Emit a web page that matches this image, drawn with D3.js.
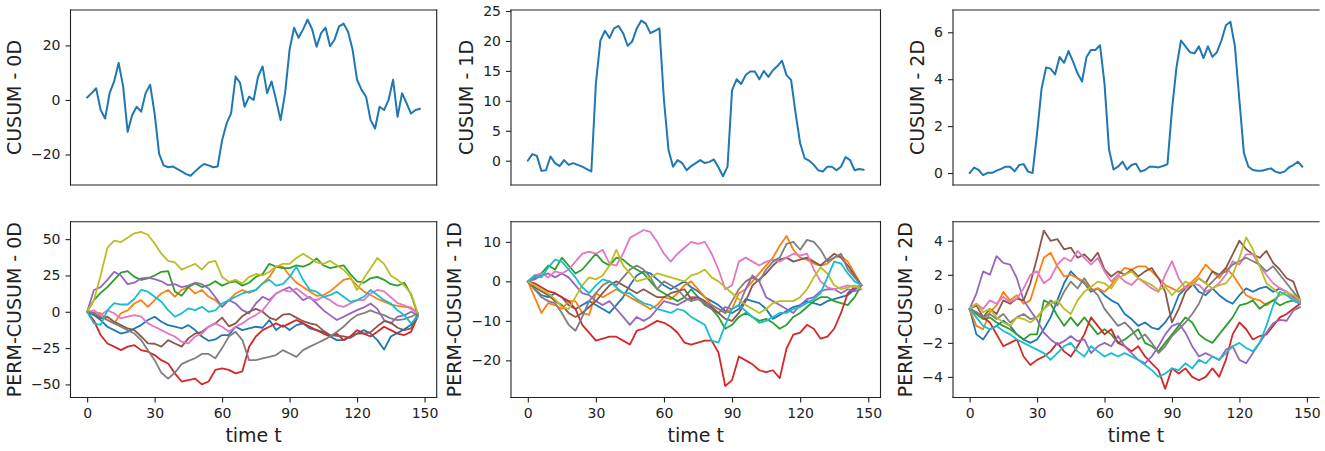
<!DOCTYPE html>
<html>
<head>
<meta charset="utf-8">
<script src="https://cdn.jsdelivr.net/npm/d3@7"></script>
<style>
  body { margin: 0; background: #fff; }
  text { font-family: "DejaVu Sans", sans-serif; fill: #222; }
</style>
</head>
<body>
<svg width="1325" height="451"></svg>
<script>
// time indices
const tCusum = d3.range(0, 149, 2);   // 0..148
const tPerm = d3.range(0, 148, 3);    // 0..147
const timeTicks = [0, 30, 60, 90, 120, 150];

// CUSUM statistics
const cusum0D = [0.9, 2.5, 4.3, -3.7, -6.8, 2.5, 6.8, 13.6, 5, -11.7,
  -5.6, -2.5, -4.3, 2.5, 5.6, -5, -19.8, -24, -24.7, -24.4,
  -25.3, -26.2, -27.2, -27.8, -26.2, -24.7, -23.5, -24, -24.7, -24.4,
  -14.8, -8.6, -4.9, 8.6, 6.2, -2.5, 1.2, 0, 8.6, 12.3,
  2.5, 6.8, 0, -7.4, 2.5, 18.5, 26.5, 22.8, 25.9, 29.5,
  26, 19.5, 24.5, 26.5, 19.7, 22.2, 27, 28, 25, 18.5,
  7.4, 3.7, 1.2, -7.4, -10.5, -2.5, -3.7, 0, 7.4, -6.2,
  2.5, -1.2, -5, -3.7, -3.2];
const cusum1D = [0, 1.1, 0.8, -1.7, -1.6, 0.7, -0.4, -0.9, 0.1, -0.7,
  -0.4, -0.7, -1, -1.4, -1.8, 12.9, 20.1, 21.7, 20.5, 22.1,
  22.5, 21.3, 19.2, 19.9, 22.1, 23.4, 22.9, 21.3, 21.7, 22.1,
  10.1, 1.8, -1, 0.1, -0.4, -1.6, -0.9, -0.4, 0.1, -0.4,
  -0.2, 0.2, -1.1, -2.6, -1, 11.8, 13.6, 12.8, 14.3, 14.9,
  14.9, 13.6, 15, 14, 15.1, 15.8, 16.7, 14.3, 13.5, 7.9,
  2.9, 0.4, 0, -0.7, -1.6, -1.8, -1, -1, -1.6, -1,
  0.6, 0.1, -1.6, -1.4, -1.5];
const cusum2D = [0, 0.23, 0.13, -0.09, 0.01, 0.01, 0.1, 0.18, 0.27, 0.27,
  0.07, 0.34, 0.38, 0.06, 0, 1.7, 3.6, 4.5, 4.45, 4.2,
  4.95, 4.7, 5.2, 4.75, 4.25, 3.9, 4.95, 5.25, 5.25, 5.45,
  3.8, 1.0, 0.15, 0.27, 0.48, 0.15, 0.34, 0.4, 0.06, 0.13,
  0.27, 0.27, 0.24, 0.3, 0.38, 2.7, 4.5, 5.65, 5.4, 5.15,
  5.1, 5.4, 4.9, 5.4, 4.95, 5.15, 5.65, 6.3, 6.45, 5.4,
  3.1, 0.85, 0.27, 0.13, 0.1, 0.1, 0.15, 0.2, 0.06, 0,
  0.06, 0.24, 0.34, 0.48, 0.27];

// permutation CUSUMs, 0D
const perm0D = [
  [0, -2.3, -5.7, -10.3, -12.6, -15, -13.8, -11.5, -9.2, -5.7, -3.4, -6.9, -9.2, -10.3, -11.5, -9.2, -12.6, -17, -20, -19, -16, -16, -10.3, -12.6, -11.5, -10.3, -11, -5.7, -12.6, -9.2, -12.6, -9.2, -8, -11.5, -12.6, -13.8, -17, -19.5, -19.5, -17, -15, -12.6, -15, -19.5, -26, -17, -14.5, -12, -9, -3],
  [0, -0.5, -1, -5.7, -8, -1, 1, 5.7, 8, 3.4, 8, 12.6, 15, 10.3, 15, 17, 12.6, 15, 10.3, 8, 3.4, 8, 12.6, 15, 13, 15, 19.5, 24, 31, 31, 25, 20, 17, 14, 11, 11.5, 14, 18, 22, 23, 18, 14, 11.5, 9, 7, 5, 4, 3.4, 3, -1],
  [0, 8, 13, 17, 22, 27, 28, 24, 22, 23, 25, 27.5, 28, 14, 11, 17, 19.5, 17, 18.3, 21, 18, 20, 21, 18, 20, 24, 26, 33, 31, 30, 30, 32, 31, 33, 36.7, 32, 30, 31, 32, 26, 21, 20, 23, 24, 22, 19, 18, 20, 12, -2],
  [0, -6, -16, -21.8, -24, -26.4, -24, -23, -26.4, -27.5, -29.8, -33.3, -35.6, -42.4, -48, -47, -46, -50, -48, -40, -39, -40, -42.4, -41, -24, -17, -12.6, -10.3, -8, -10.3, -8, -5.7, -8, -10.3, -12.6, -15, -17, -15, -19.5, -17, -12.6, -15, -17, -13.8, -10.3, -12.6, -15, -16, -13.8, -3],
  [0, 15, 17, 22, 27.5, 25, 19, 20, 23, 23.5, 22.5, 21, 18.3, 19, 17, 18, 20, 19, 16, 10, 3.4, 8, 5.7, 1.1, -1.1, 5.7, 10.3, 8, 12.6, 15, 17, 12.6, 8, 10.3, 5.7, 1.1, -2.3, -5.7, -3.4, -1.1, 1.1, 3, 5.7, 2, -5.7, -8, -3.4, -2.5, 0, -2.3],
  [0, -1, -4.6, -3.4, -6.9, -9.2, -11.5, -12.6, -17, -21.8, -22, -24, -19.5, -21.8, -24, -18.3, -15, -13.8, -10.3, -8, -4, -10, -8, -3, 0, 2, 0, -4, -5.7, -2, -1.5, -4, -6.5, -8, -9, -13, -16, -16.5, -17, -18, -15, -15, -14, -10, -6.5, -7.5, -11, -12.6, -11.5, -1],
  [0, 1, -2.3, 1, -1, -4.6, -3.4, -2.3, -3.4, -8, -10.3, -12.6, -15, -17, -20.6, -21.8, -17, -15, -10.3, -8, -10.3, -13.8, -10.3, -8, -4.6, -2.3, 1, 6.9, 12.6, 15, 13.8, 16, 12.6, 9.2, 8, 10.3, 8, 4.6, 3.4, 5.7, 8, 8, 12.6, 15, 14, 10, 6, 4.5, 2, -1],
  [0, -1, -3.4, -5.7, -8, -10.3, -12.6, -15, -19.5, -26.4, -33.3, -42, -46, -42, -36, -33.8, -32, -29, -29, -32, -25, -17, -13.8, -19.5, -33.3, -33.3, -32, -31, -29.8, -26.4, -28.7, -31, -26.4, -24, -21.8, -19.5, -17, -13.8, -10.3, -5.7, -2.3, -1, 1, -1, -2.3, -4.6, -5.7, -5, -3.4, -1],
  [0, 8, 25, 44, 49, 48, 51, 54, 55, 53, 47, 40, 35, 34, 29, 31, 33, 29, 34, 35, 24, 20.6, 22, 19.5, 24, 26, 25, 27.5, 31, 33, 33, 37, 40, 37, 34, 33, 35, 32, 29, 24, 15, 23, 30, 37, 33, 25, 22, 18, 12.6, -1],
  [0, -8, -9, 1, 6, 5, 5, 9, 15, 13.8, 10.3, 6.9, 1.1, -3.4, -1.1, 2.3, 1.1, 3.4, 0, 1, 5.7, 8, 10.3, 12.6, 13.8, 15, 19.5, 22, 18, 19, 24, 31, 22, 15, 13.8, 10.3, 11.5, 13.8, 10.3, 6.9, 8, 10.3, 15, 11.5, 8, 5.7, 1, -2.3, -8, -3]
];

// permutation CUSUMs, 1D
const perm1D = [
  [0, -2, -3.5, -4, -3, -4, -6, -7, -6, -5, -6, -7, -8, -6, -4, -1, 1.5, 2.5, 2, 0.5, -1, -2, -1, 0, -1.5, -2.5, -4, -5, -6, -7.5, -8, -7, -4.5, -5, -5.5, -7, -9.5, -8.5, -7.5, -6.5, -6, -5, -5.5, -6, -5, -4.5, -4, -3.5, -2, -1],
  [0, -4, -8, -5.5, -6, -7, -5, -5, -8, -8.5, -3, -4, -3, -2, -3, -4, -5, -6, -7, -6, -4, -4.5, -3, -1, 0, -2, -4, -6, -7, -8, -7, -3, -2, 0, 2, 4, 6, 9, 11.5, 8, 6, 5.5, 4.5, 4, 4.5, 6, 6.5, 5, 2, -1],
  [0, 1, 2, 4, 3, 6, 4, 2, 3, 5, 7, 5, 4, 6, 5.5, 4, 3, 2, 0, -2, -3, -4, -5, -4, -2, -4, -6, -7, -9, -12, -11, -9, -8, -9, -10, -9.5, -10.5, -12, -11, -9, -8, -6.5, -5, -4, -4, -5, -5.5, -6, -4, -1],
  [0, -0.5, -1.5, -2.5, -3, -4, -5, -7, -11, -13, -15, -14.5, -14, -14, -15, -16, -12.5, -12, -11, -10, -10.5, -11.5, -13, -15.5, -16, -15.5, -15, -15, -18, -26.5, -25, -19, -20, -21, -22.5, -23, -22.5, -24.5, -17, -13.5, -13, -11, -12, -14.5, -14, -12, -8, -3, -1.5, -1],
  [0, 0.5, 1.5, 2, 1, 2, 1, -1, -3, -3.5, -5, -6, -5, -7, -9, -11, -9, -10, -9, -7, -5, -5.5, -6, -5, -4, -4, -5.5, -7, -8, -6.5, -7, -6, -2, 1.5, 0, -4, -5, -6, -7, -8, -6, -4.5, -4, -2.5, -2, -2, -3, -2, -2.5, -2],
  [0, -1.5, -2.5, -3.5, -5, -6, -8, -9, -8, -6.5, -5, -3, -1, 0, -1, -2, -3, -2, -3, -4, -4, -3, -2.5, -2, -4.5, -4, -5, -6.5, -8, -9.5, -10, -8, -5, -1, 0.5, 2, 4, 5.5, 6, 5, 5.5, 6, 5, 4, 5.5, 7, 6, 4, 1.5, -1],
  [0, 1.5, 2, 1, 2.5, 2, 3, 5, 7, 7.5, 7, 8, 4.5, 4, 7, 11, 12, 13, 12.5, 10, 7, 5, 7, 8.5, 10, 9.5, 10, 7, 3, -2, -1, 5, 6, 5, 4, 5, 5.5, 5, 6, 7, 6.5, 7, 3, 0, -1.5, -2, -1.5, -1, -1.5, -1],
  [0, -2, -4, -5, -5.5, -8, -11, -12.5, -9, -5, -3, -1, 0, -1, 1, 3, 4, 3, 1, -2, 0, -1, -2, -4, -5, -4.5, -5.5, -6, -7, -8, -5, -2, 0, 1, 0, 3, 5, 6, 9.5, 10, 8, 10.5, 10, 8, 5, 6, 7, 3, 1, -1],
  [0, -1, -2, -3, -4.5, -6.5, -7, -4, -1, 1, 0.5, 1.5, 4, 8, 4, 2, 0, 0.5, 1, 2, 1.5, 1, 0.5, 0, 1.5, 2, 3, 1, 0, -1.5, -3, -4.5, -6, -7, -8, -7, -5.5, -5, -5, -5, -4, -2, 1, 3.5, 2, -1, -2, -1.5, -1, -2],
  [0, 1.5, 1, 3.5, 5.5, 5, 3, 1, -1.5, -3, -1, 0.5, 0, -1.5, -3, -3, -4.5, -5.5, -6, -7, -7.5, -8, -7, -7.5, -9, -10, -11, -15, -15.5, -11, -7, -6, -7.5, -9, -10.5, -10, -9, -8, -8, -7, -6.5, -5.5, -4.5, -3, 1, 5, 4.5, 2, 0, -1]
];

// permutation CUSUMs, 2D
const perm2D = [
  [0, -1.5, -1.8, -1.2, -1.0, -0.7, -1.0, -1.5, -1.8, -2.0, -1.8, -1.2, -0.5, 0.5, 1.5, 2.2, 1.8, 1.5, 1.0, 1.2, 0.8, 0.5, 0.3, -0.3, -0.6, -1.0, -0.8, -1.1, -1.2, -0.8, -0.2, 0.8, 1.2, 1.5, 1.0, 0.8, 1.2, 0.8, 0.5, 0.3, 0.8, 1.2, 1.0, 1.2, 1.3, 1.0, 1.2, 1.0, 0.7, 0.4],
  [0, -1.0, -1.2, -0.2, 0.2, 1.0, 0.5, 0.8, 0.3, 0.5, 1.8, 3.0, 3.3, 2.5, 1.9, 2.0, 1.8, 1.6, 1.1, 1.2, 1.0, 1.4, 2.0, 2.4, 2.3, 2.5, 2.5, 2.2, 1.8, 1.4, 1.2, 1.0, 1.3, 1.6, 2.0, 2.6, 2.2, 1.8, 2.4, 2.0, 1.4, 0.8, 0.6, 0.5, 0.2, 0.5, 0.8, 1.0, 0.5, 0.3],
  [0, -0.3, -0.6, -0.5, -0.8, -1.0, -1.2, -1.5, -1.8, -1.5, -1.5, 0.5, 0.3, -0.4, -1.0, -0.5, -1.0, -0.5, -1.0, -1.5, -1.2, -1.5, -2.0, -1.8, -1.5, -1.2, -2.0, -2.2, -2.5, -2.0, -1.5, -1.0, -0.5, -0.8, -1.5, -1.8, -2.0, -1.5, -1.0, -0.5, 0.2, 0.3, 0.5, 0, 0.3, 0.5, 0.2, 0.4, 0.5, 0.3],
  [0, -0.2, -0.5, -0.8, -1.5, -2.2, -2.0, -1.8, -2.8, -3.3, -3.0, -2.8, -2.5, -2.0, -2.5, -2.8, -2.2, -1.5, -0.5, -1.0, -1.5, -1.2, -2.0, -2.2, -2.5, -2.2, -2.8, -3.2, -3.6, -4.7, -3.5, -3.8, -3.5, -4.0, -4.2, -4.0, -3.5, -4.0, -3.0, -1.5, -0.8, -1.2, -1.8, -1.6, -1.5, -1.0, -0.5, -0.3, 0, 0.3],
  [0, 0.9, 2.2, 2.0, 3.1, 2.7, 2.6, 1.8, 0.5, -0.1, -0.65, -1.4, -1.8, -2.1, -1.9, -1.6, -1.9, -1.8, -2.6, -2.2, -2.0, -2.2, -1.6, -2.2, -2.6, -3.0, -3.2, -2.8, -2.2, -1.5, -1.0, -0.85, -1.4, -2.2, -2.8, -2.6, -2.8, -3.0, -2.4, -2.2, -3.0, -3.2, -2.6, -2.0, -1.4, -0.85, -0.65, -0.7, -0.1, 0.1],
  [0, 0.2, -0.5, 0, -0.3, 0.5, 0.3, 0.6, 0.5, 1.5, 3.0, 4.6, 4.0, 4.1, 3.5, 3.6, 3.0, 3.2, 2.8, 3.3, 2.3, 1.9, 2.2, 2.0, 2.3, 1.9, 2.2, 2.4, 1.8, 1.0, -0.8, 0, 1.0, 1.4, 1.8, 1.5, 2.2, 2.0, 2.4, 3.2, 4.0, 3.5, 3.2, 3.0, 3.4, 2.7, 2.3, 1.8, 1.6, 0.5],
  [0, 0.3, 0, 0.5, 0.3, 0.7, 0.4, 0.6, 1.2, 2.0, 2.2, 1.5, 1.8, 2.6, 3.0, 2.8, 3.4, 3.0, 2.6, 3.0, 2.2, 1.6, 2.0, 1.6, 1.4, 1.8, 1.5, 1.2, 1.0, 2.0, 2.8, 1.8, 1.2, 1.5, 1.4, 1.0, 1.2, 1.5, 2.0, 2.8, 2.6, 3.2, 3.2, 2.5, 2.0, 1.5, 1.2, 1.0, 0.6, 0.4],
  [0, -0.2, -0.5, -0.3, -0.6, -0.3, -0.8, -0.5, -0.3, -0.6, -0.5, 0, 0.5, 0.2, 1.0, 1.6, 1.2, 1.8, 1.2, 0.8, 0, -0.5, -1.0, -0.8, -1.2, -1.8, -1.5, -2.0, -2.6, -2.2, -1.6, -1.2, -0.8, -0.3, 0.3, 1.2, 1.6, 2.0, 2.2, 2.6, 2.8, 3.0, 2.8, 2.6, 2.2, 2.5, 2.0, 1.5, 1.0, 0.5],
  [0, 0.3, -0.2, 0, -0.5, -0.8, -1.0, -0.5, -0.6, -0.8, -0.5, 0, 0.3, 0.5, 0, -0.3, 0.5, 1.0, 1.3, 1.6, 1.5, 1.2, 1.8, 2.0, 2.2, 1.8, 1.6, 1.4, 1.1, 1.3, 0.8, 1.2, 1.6, 1.4, 1.8, 1.5, 1.2, 1.4, 1.5, 2.0, 3.0, 4.2, 3.5, 2.5, 1.5, 1.2, 0.8, 1.0, 0.8, 0.5],
  [0, -0.5, -1.0, -1.2, -1.0, -1.3, -1.5, -1.8, -2.0, -2.2, -2.4, -2.6, -3.0, -2.6, -2.2, -2.0, -2.5, -2.8, -2.2, -2.5, -2.8, -2.6, -2.8, -2.6, -2.8, -3.0, -3.3, -3.6, -4.0, -3.8, -3.5, -3.6, -3.2, -3.5, -3.0, -3.2, -2.8, -3.0, -2.6, -2.2, -2.0, -2.3, -2.5, -2.0, -1.0, 0.2, 1.0, 0.8, 0.5, 0.3]
];

const tab10 = ['#1f77b4', '#ff7f0e', '#2ca02c', '#d62728', '#9467bd',
  '#8c564b', '#e377c2', '#7f7f7f', '#bcbd22', '#17becf'];

// panel geometry
const cols = [
  { left: 70.5, right: 436.7, rightSpine: true },
  { left: 511, right: 880.5, rightSpine: true },
  { left: 953, right: 1319, rightSpine: false }
];
const rows = [{ top: 10, bottom: 185 }, { top: 221.7, bottom: 397.5 }];
const xDomain = [-7.4, 155.4];

const panels = [
  { row: 0, col: 0, label: 'CUSUM - 0D', t: tCusum, lines: [cusum0D], yDomain: [-31.2, 33], yTicks: [-20, 0, 20], lw: 2 },
  { row: 0, col: 1, label: 'CUSUM - 1D', t: tCusum, lines: [cusum1D], yDomain: [-4.06, 25.17], yTicks: [0, 5, 10, 15, 20, 25], lw: 2 },
  { row: 0, col: 2, label: 'CUSUM - 2D', t: tCusum, lines: [cusum2D], yDomain: [-0.51, 6.95], yTicks: [0, 2, 4, 6], lw: 2 },
  { row: 1, col: 0, label: 'PERM-CUSUM - 0D', t: tPerm, lines: perm0D, yDomain: [-59, 62], yTicks: [-50, -25, 0, 25, 50], lw: 1.8 },
  { row: 1, col: 1, label: 'PERM-CUSUM - 1D', t: tPerm, lines: perm1D, yDomain: [-29.4, 15.1], yTicks: [-20, -10, 0, 10], lw: 1.8 },
  { row: 1, col: 2, label: 'PERM-CUSUM - 2D', t: tPerm, lines: perm2D, yDomain: [-5.21, 5.12], yTicks: [-4, -2, 0, 2, 4], lw: 1.8 }
];

const svg = d3.select('svg');

panels.forEach((p) => {
  const c = cols[p.col];
  const r = rows[p.row];
  const x = d3.scaleLinear().domain(xDomain).range([c.left, c.right]);
  const y = d3.scaleLinear().domain(p.yDomain).range([r.bottom, r.top]);
  const g = svg.append('g');

  const line = d3.line()
    .x((d, i) => x(p.t[i]))
    .y((d) => y(d));

  g.selectAll('path.series')
    .data(p.lines)
    .enter()
    .append('path')
    .attr('class', 'series')
    .attr('d', line)
    .attr('fill', 'none')
    .attr('stroke', (d, i) => tab10[i % 10])
    .attr('stroke-width', p.lw)
    .attr('stroke-linejoin', 'round')
    .attr('stroke-linecap', 'round');

  // spines
  const spines = [
    [c.left, r.top, c.left, r.bottom],
    [c.left, r.bottom, c.right, r.bottom],
    [c.left, r.top, c.right, r.top]
  ];
  if (c.rightSpine) spines.push([c.right, r.top, c.right, r.bottom]);
  g.selectAll('line.spine')
    .data(spines)
    .enter()
    .append('line')
    .attr('class', 'spine')
    .attr('x1', (d) => d[0]).attr('y1', (d) => d[1])
    .attr('x2', (d) => d[2]).attr('y2', (d) => d[3])
    .attr('stroke', '#222')
    .attr('stroke-width', 1.1)
    .attr('stroke-linecap', 'square');

  const yAxis = d3.axisLeft(y)
    .tickValues(p.yTicks)
    .tickSize(5)
    .tickPadding(5)
    .tickFormat(d3.format('d'));
  const ya = g.append('g')
    .attr('transform', `translate(${c.left},0)`)
    .call(yAxis);
  ya.select('.domain').remove();
  ya.selectAll('.tick line').attr('stroke', '#222').attr('stroke-width', 1.1);
  ya.selectAll('.tick text')
    .style('font-family', '"DejaVu Sans", sans-serif')
    .style('font-size', '14px')
    .attr('fill', '#222');

  if (p.row === 1) {
    const xAxis = d3.axisBottom(x)
      .tickValues(timeTicks)
      .tickSize(5)
      .tickPadding(6)
      .tickFormat(d3.format('d'));
    const xa = g.append('g')
      .attr('transform', `translate(0,${r.bottom})`)
      .call(xAxis);
    xa.select('.domain').remove();
    xa.selectAll('.tick line').attr('stroke', '#222').attr('stroke-width', 1.1);
    xa.selectAll('.tick text')
      .style('font-family', '"DejaVu Sans", sans-serif')
      .style('font-size', '14px')
      .attr('fill', '#222');

    g.append('text')
      .attr('x', (c.left + c.right) / 2)
      .attr('y', r.bottom + 44)
      .attr('text-anchor', 'middle')
      .style('font-size', '19px')
      .text('time t');
  }

  // y label sits left of the widest tick label, like matplotlib does
  const bb = ya.node().getBBox();
  const lx = c.left + bb.x - 10;
  const ly = (r.top + r.bottom) / 2;
  g.append('text')
    .attr('transform', `translate(${lx},${ly}) rotate(-90)`)
    .attr('text-anchor', 'middle')
    .style('font-size', '19px')
    .text(p.label);
});
</script>
</body>
</html>
